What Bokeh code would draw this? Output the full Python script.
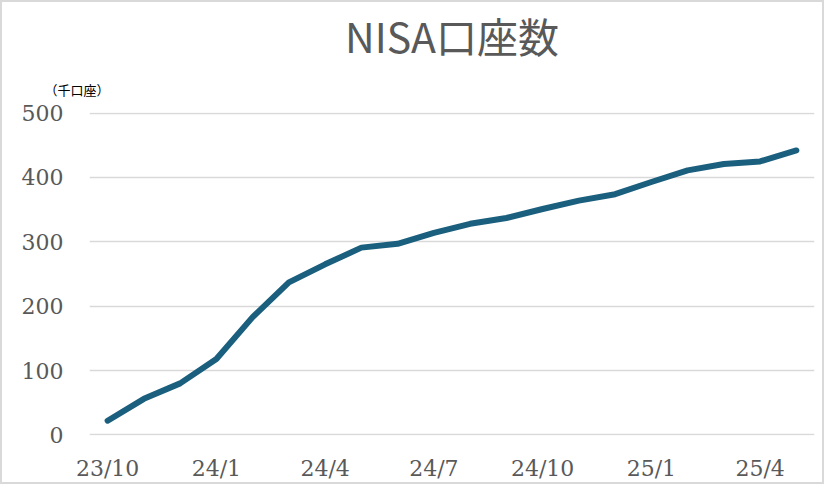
from bokeh.plotting import figure
from bokeh.models import Range1d, Title, FixedTicker
from bokeh.embed import file_html
from bokeh.resources import INLINE

months = ["23/10", "23/11", "23/12", "24/1", "24/2", "24/3", "24/4", "24/5", "24/6",
          "24/7", "24/8", "24/9", "24/10", "24/11", "24/12", "25/1", "25/2", "25/3",
          "25/4", "25/5"]
accounts = [22, 56, 80, 118, 183, 237, 265, 291, 297, 314, 328, 337, 351, 364, 374,
            393, 411, 421, 425, 442]
shown_labels = ["23/10", "24/1", "24/4", "24/7", "24/10", "25/1", "25/4"]
y_ticks = [0, 100, 200, 300, 400, 500]
title_text = "NISA口座数"
unit_text = "（千口座）"

xs = list(range(len(months)))
shown_idx = [months.index(m) for m in shown_labels]

W, H = 824, 484
p = figure(width=W, height=H, output_backend="svg", toolbar_location=None,
           x_range=Range1d(-0.5, len(months) - 0.5), y_range=Range1d(-1, 501),
           min_border_left=87, min_border_right=12, min_border_top=0,
           min_border_bottom=51)
p.styles = {"border": "2px solid #d9d9d9", "box-sizing": "border-box"}
p.outline_line_color = None
p.background_fill_color = "white"
p.border_fill_color = "white"

p.line(xs, accounts, line_color="#1b5f7e", line_width=6,
       line_join="round", line_cap="round")

for ax in (p.xaxis, p.yaxis):
    ax.axis_line_color = None
    ax.major_tick_line_color = None
    ax.minor_tick_line_color = None
    ax.major_tick_out = 0
    ax.major_label_text_font = "DejaVu Serif"
    ax.major_label_text_font_size = "22px"
    ax.major_label_text_color = "#595959"
p.yaxis.ticker = FixedTicker(ticks=y_ticks)
p.yaxis.major_label_standoff = 26
p.xaxis.ticker = FixedTicker(ticks=shown_idx)
p.xaxis.major_label_overrides = {i: months[i] for i in shown_idx}
p.xaxis.major_label_standoff = 20

p.xgrid.grid_line_color = None
p.ygrid.grid_line_color = "#d9d9d9"
p.ygrid.grid_line_width = 1.5

p.title = Title(text=title_text, align="center", offset=-25,
                text_font="Noto Sans CJK JP", text_font_size="41px",
                text_font_style="normal", text_color="#595959", standoff=0)
p.add_layout(Title(text=unit_text, align="left", offset=-45,
                   text_font="Noto Sans CJK JP", text_font_size="13px",
                   text_font_style="normal", text_color="#000000", standoff=27),
             "above")

open("out.html", "w").write(file_html(p, INLINE))
